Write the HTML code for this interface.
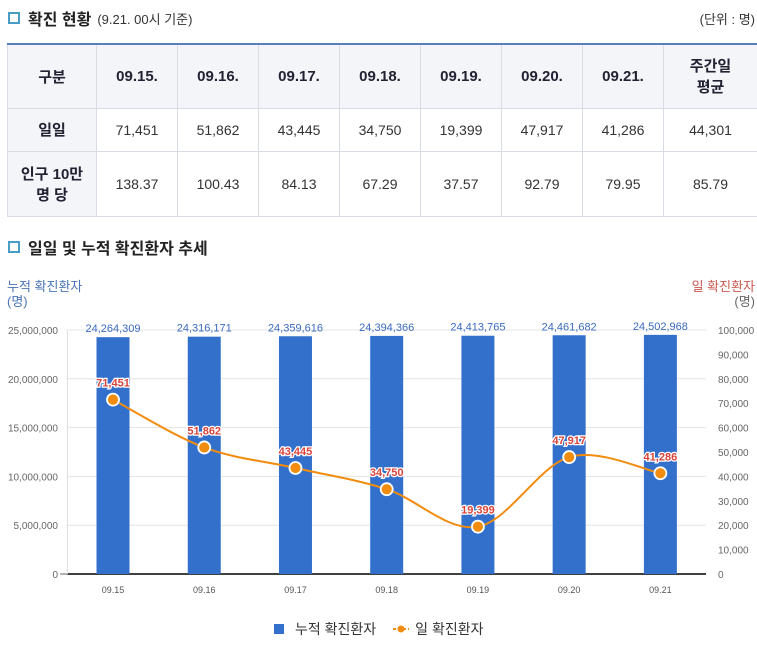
<!DOCTYPE html>
<html><head><meta charset="utf-8">
<style>
body{margin:0;width:757px;height:649px;background:#fff;font-family:"Liberation Sans","Noto Sans CJK KR",sans-serif;position:relative;overflow:hidden;color:#333}
.h{position:absolute;left:8px;font-size:16px;font-weight:bold;color:#222;display:flex;align-items:center}
.sq{width:8px;height:8px;border:2px solid #4a9cc8;background:#fff;margin-right:8px}
table{position:absolute;left:7px;top:43px;width:750px;border-collapse:collapse;table-layout:fixed;font-size:14px}
table{border-top:2px solid #5a7fb8}
td,th{border:1px solid #d8dde5;text-align:center;padding:0;color:#333;font-weight:normal}
th{font-weight:bold;color:#223;font-size:15px}
td:first-child{border-left:none}
td:last-child,th:last-child{border-right:none}
</style></head><body>
<div class="h" style="top:6px"><span class="sq"></span>확진 현황<span style="font-size:13px;font-weight:normal;margin-left:6px;color:#333">(9.21. 00시 기준)</span></div>
<div style="position:absolute;right:2px;top:9px;font-size:13px">(단위 : 명)</div>
<table>
<colgroup><col style="width:89px"><col style="width:81px"><col style="width:81px"><col style="width:81px"><col style="width:81px"><col style="width:81px"><col style="width:81px"><col style="width:81px"><col></colgroup>
<tr style="height:64px;background:#f3f5f9"><th>구분</th><th>09.15.</th><th>09.16.</th><th>09.17.</th><th>09.18.</th><th>09.19.</th><th>09.20.</th><th>09.21.</th><th>주간일<br>평균</th></tr>
<tr style="height:43px"><th style="background:#f3f5f9">일일</th><td>71,451</td><td>51,862</td><td>43,445</td><td>34,750</td><td>19,399</td><td>47,917</td><td>41,286</td><td>44,301</td></tr>
<tr style="height:65px"><th style="background:#f3f5f9">인구 10만<br>명 당</th><td>138.37</td><td>100.43</td><td>84.13</td><td>67.29</td><td>37.57</td><td>92.79</td><td>79.95</td><td>85.79</td></tr>
</table>
<div class="h" style="top:235px"><span class="sq"></span>일일 및 누적 확진환자 추세</div>
<svg id="chart" width="757" height="649" style="position:absolute;left:0;top:0"></svg>
<script>
const categories=["09.15","09.16","09.17","09.18","09.19","09.20","09.21"];
const cumulative=[24264309,24316171,24359616,24394366,24413765,24461682,24502968];
const daily=[71451,51862,43445,34750,19399,47917,41286];
const leftTicks=[0,5000000,10000000,15000000,20000000,25000000];
const rightTicks=[0,10000,20000,30000,40000,50000,60000,70000,80000,90000,100000];
const NS="http://www.w3.org/2000/svg",svg=document.getElementById('chart');
const X0=67.4,X1=706,Y0=574,Y1=330;
const bw=(X1-X0)/categories.length;
const xs=i=>X0+bw*(i+0.5);
const yl=v=>Y0-(v/25000000)*(Y0-Y1);
const yr=v=>Y0-(v/100000)*(Y0-Y1);
function mk(t,a,txt){const e=document.createElementNS(NS,t);for(const k in a)e.setAttribute(k,a[k]);if(txt!=null)e.textContent=txt;svg.appendChild(e);return e;}
const fmt=v=>v.toLocaleString('en-US');
leftTicks.forEach(v=>{const g=mk('line',{x1:X0,x2:X1,y1:yl(v),y2:yl(v),stroke:v?'#e4e4e4':'#000','stroke-width':v?1:1.5});

const t=mk('text',{x:58,y:yl(v)+4,'text-anchor':'end','font-size':10,fill:'#666'},fmt(v));
});
mk('line',{x1:60,x2:X0,y1:Y0,y2:Y0,stroke:'#666'});
mk('line',{x1:X0,x2:X0,y1:Y1,y2:Y0,stroke:'#ddd'});
rightTicks.forEach(v=>{const t=mk('text',{x:718,y:yr(v)+4,'font-size':10,fill:'#666'},fmt(v));
});
categories.forEach((c,i)=>{
const b=mk('rect',{x:xs(i)-16.5,y:yl(cumulative[i]),width:33,height:Y0-yl(cumulative[i]),fill:'#3370cc'});

const l=mk('text',{x:xs(i),y:yl(cumulative[i])-5,'text-anchor':'middle','font-size':11,fill:'#3a6bbf'},fmt(cumulative[i]));

const x=mk('text',{x:xs(i),y:593,'text-anchor':'middle','font-size':9,fill:'#555'},c);
});
const pts=daily.map((v,i)=>[xs(i),yr(v)]);
let d='M'+pts[0];
for(let i=0;i<pts.length-1;i++){const p0=pts[Math.max(i-1,0)],p1=pts[i],p2=pts[i+1],p3=pts[Math.min(i+2,pts.length-1)];
d+=' C'+(p1[0]+(p2[0]-p0[0])/6)+','+(p1[1]+(p2[1]-p0[1])/6)+' '+(p2[0]-(p3[0]-p1[0])/6)+','+(p2[1]-(p3[1]-p1[1])/6)+' '+p2;}
const ln=mk('path',{d:d,fill:'none',stroke:'#f28c0f','stroke-width':2});

pts.forEach((p,i)=>{const c=mk('circle',{cx:p[0],cy:p[1],r:6,fill:'#f28c0f',stroke:'#fff','stroke-width':1.8});

const t=mk('text',{x:p[0],y:p[1]-13,'text-anchor':'middle','font-size':11,'font-weight':'bold',fill:'#d9433a',stroke:'#fff','stroke-width':2.5,'paint-order':'stroke'},fmt(daily[i]));
});
</script>
<div style="position:absolute;left:7px;top:279px;font-size:13px;color:#4a74b8;line-height:15px">누적 확진환자<br>(명)</div>
<div style="position:absolute;right:2px;top:279px;font-size:13px;color:#c9584d;line-height:15px;text-align:right">일 확진환자<br><span style="color:#666">(명)</span></div>
<div style="position:absolute;left:274px;top:619px;font-size:14px;display:flex;align-items:center;color:#333">
<span style="display:flex;align-items:center"><span style="width:10px;height:10px;background:#3370cc;margin-right:11px"></span>누적 확진환자</span>
<span style="display:flex;align-items:center;margin-left:17px"><svg width="16" height="10" style="margin-right:6px"><line x1="0" y1="5" x2="16" y2="5" stroke="#f28c0f" stroke-width="2" stroke-dasharray="3,2"/><circle cx="8" cy="5" r="3.5" fill="#f28c0f"/></svg>일 확진환자</span>
</div>
</body></html>
